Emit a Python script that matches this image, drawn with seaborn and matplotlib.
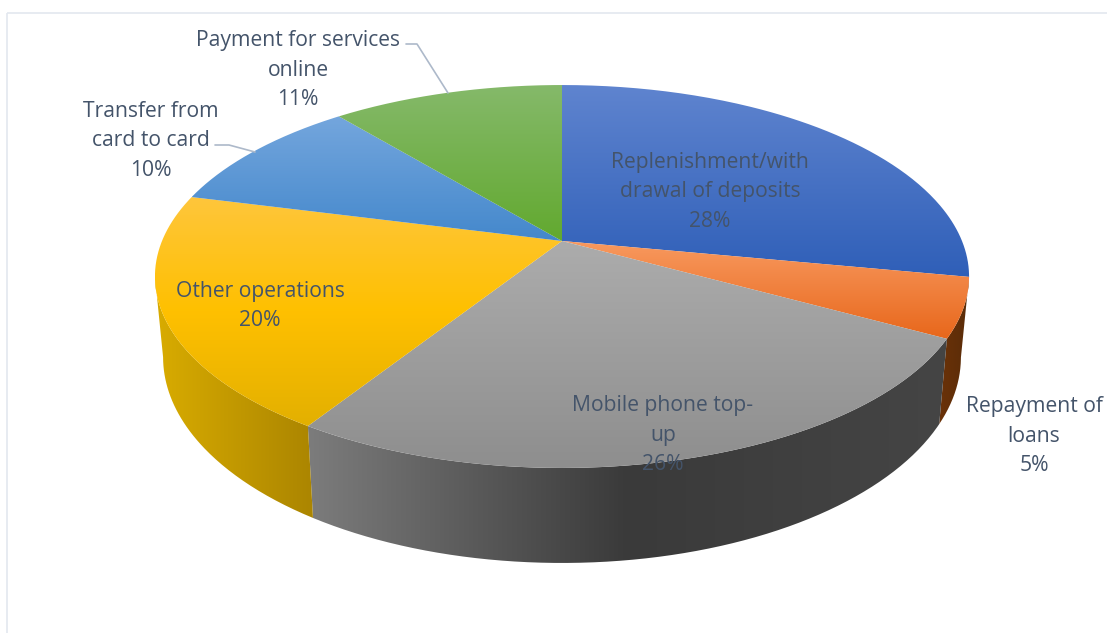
import numpy as np
import matplotlib
matplotlib.use("Agg")
import matplotlib.pyplot as plt
from matplotlib.patches import PathPatch, Rectangle
from matplotlib.path import Path
import seaborn as sns

# Share of operations, in percent, clockwise from twelve o'clock
categories = ["Replenishment/with\ndrawal of deposits", "Repayment of\nloans",
              "Mobile phone top-\nup", "Other operations",
              "Transfer from\ncard to card", "Payment for services\nonline"]
shares = [28, 5, 26, 20, 10, 11]

# Gradient stops per slice: top face (far to near), side wall (left to right)
top_ramps = [["#5f84cf", "#2f5fb8"], ["#f8995f", "#e8671b"], ["#acacac", "#8e8e8e"],
             ["#fec63c", "#ffc000", "#e3b000"], ["#74a6dd", "#4488cc"], ["#85b96a", "#62a92f"]]
wall_ramps = [["#2a4a8c", "#2a4a8c"], ["#6b3208", "#5a2c08"], ["#7c7c7c", "#3a3a3a", "#454545"],
              ["#d9ac00", "#ab8500"], ["#2f5f90", "#2f5f90"], ["#4a7a25", "#4a7a25"]]

TEXT = "#44546a"
LEADER = "#adb9ca"
FRAME = "#e3e7ef"

sns.set_theme(style="white")
plt.rcParams["font.family"] = ["Open Sans", "DejaVu Sans"]

W, H = 1107, 633
fig = plt.figure(figsize=(W / 100, H / 100), dpi=100, facecolor="white")
ax = fig.add_axes([0, 0, 1, 1])
ax.set_xlim(0, W)
ax.set_ylim(H, 0)
ax.axis("off")

# Perspective view of the unit disc
CX, CY, AX, BY, P = 562.0, 241.0, 400.0, 140.2, 0.1854


def top_rim(theta):
    x, y = np.sin(theta), np.cos(theta)
    w = 1 + P * y
    return CX + AX * x / w, (CY - BY * y) / w


def bottom_rim(theta):
    x, y = top_rim(theta)
    return CX + 0.98 * (x - CX), y + 95 - 0.075 * (468 - y)


def shaded(verts, ramp, vertical, z):
    """Fill a closed outline with a linear gradient across its bounding box."""
    verts = np.asarray(verts)
    cmap = sns.blend_palette(ramp, n_colors=256, as_cmap=True)
    x0, y0 = verts.min(axis=0)
    x1, y1 = verts.max(axis=0)
    grad = np.linspace(0, 1, 256)
    grad = grad[:, None] if vertical else grad[None, :]
    im = ax.imshow(grad, cmap=cmap, vmin=0, vmax=1, extent=(x0, x1, y1, y0),
                   origin="upper", aspect="auto", zorder=z, interpolation="bilinear")
    patch = PathPatch(Path(np.vstack([verts, verts[:1]])), transform=ax.transData,
                      fc="none", ec="none")
    ax.add_patch(patch)
    im.set_clip_path(patch)


edges = np.radians(np.concatenate([[0], np.cumsum(shares)]) * 3.6)
RIGHT, LEFT = np.arccos(-P), 2 * np.pi - np.arccos(-P)

# Side walls: only the part of each slice facing the viewer
for i in range(len(shares)):
    a, b = max(edges[i], RIGHT), min(edges[i + 1], LEFT)
    if b <= a:
        continue
    t = np.linspace(a, b, 120)
    outline = np.column_stack(top_rim(t))
    lower = np.column_stack(bottom_rim(t[::-1]))
    shaded(np.vstack([outline, lower]), wall_ramps[i], False, 2)

# Top faces
for i in range(len(shares)):
    t = np.linspace(edges[i], edges[i + 1], 160)
    rim = np.column_stack(top_rim(t))
    shaded(np.vstack([[CX, CY], rim]), top_ramps[i], True, 3)

# Data labels, one centre per slice
centres = [(710, 192), (1034, 436), (663, 435), (260, 306), (151, 141), (298, 70)]
for name, share, (x, y) in zip(categories, shares, centres):
    ax.text(x, y, f"{name}\n{share}%", ha="center", va="center", color=TEXT,
            fontsize=15.2, linespacing=1.53, zorder=5)

# Leader lines for the two outer labels
ax.plot([406, 417, 448], [44, 44, 93], color=LEADER, lw=1.2, zorder=4)
ax.plot([215, 229, 255], [145, 145, 152], color=LEADER, lw=1.2, zorder=4)

# Chart frame running off the right and bottom edges
ax.add_patch(Rectangle((6.5, 12.5), W, H, fc="none", ec=FRAME, lw=1.2, zorder=1))

ax.set_xlim(0, W)
ax.set_ylim(H, 0)
fig.savefig("out.png", dpi=100)
